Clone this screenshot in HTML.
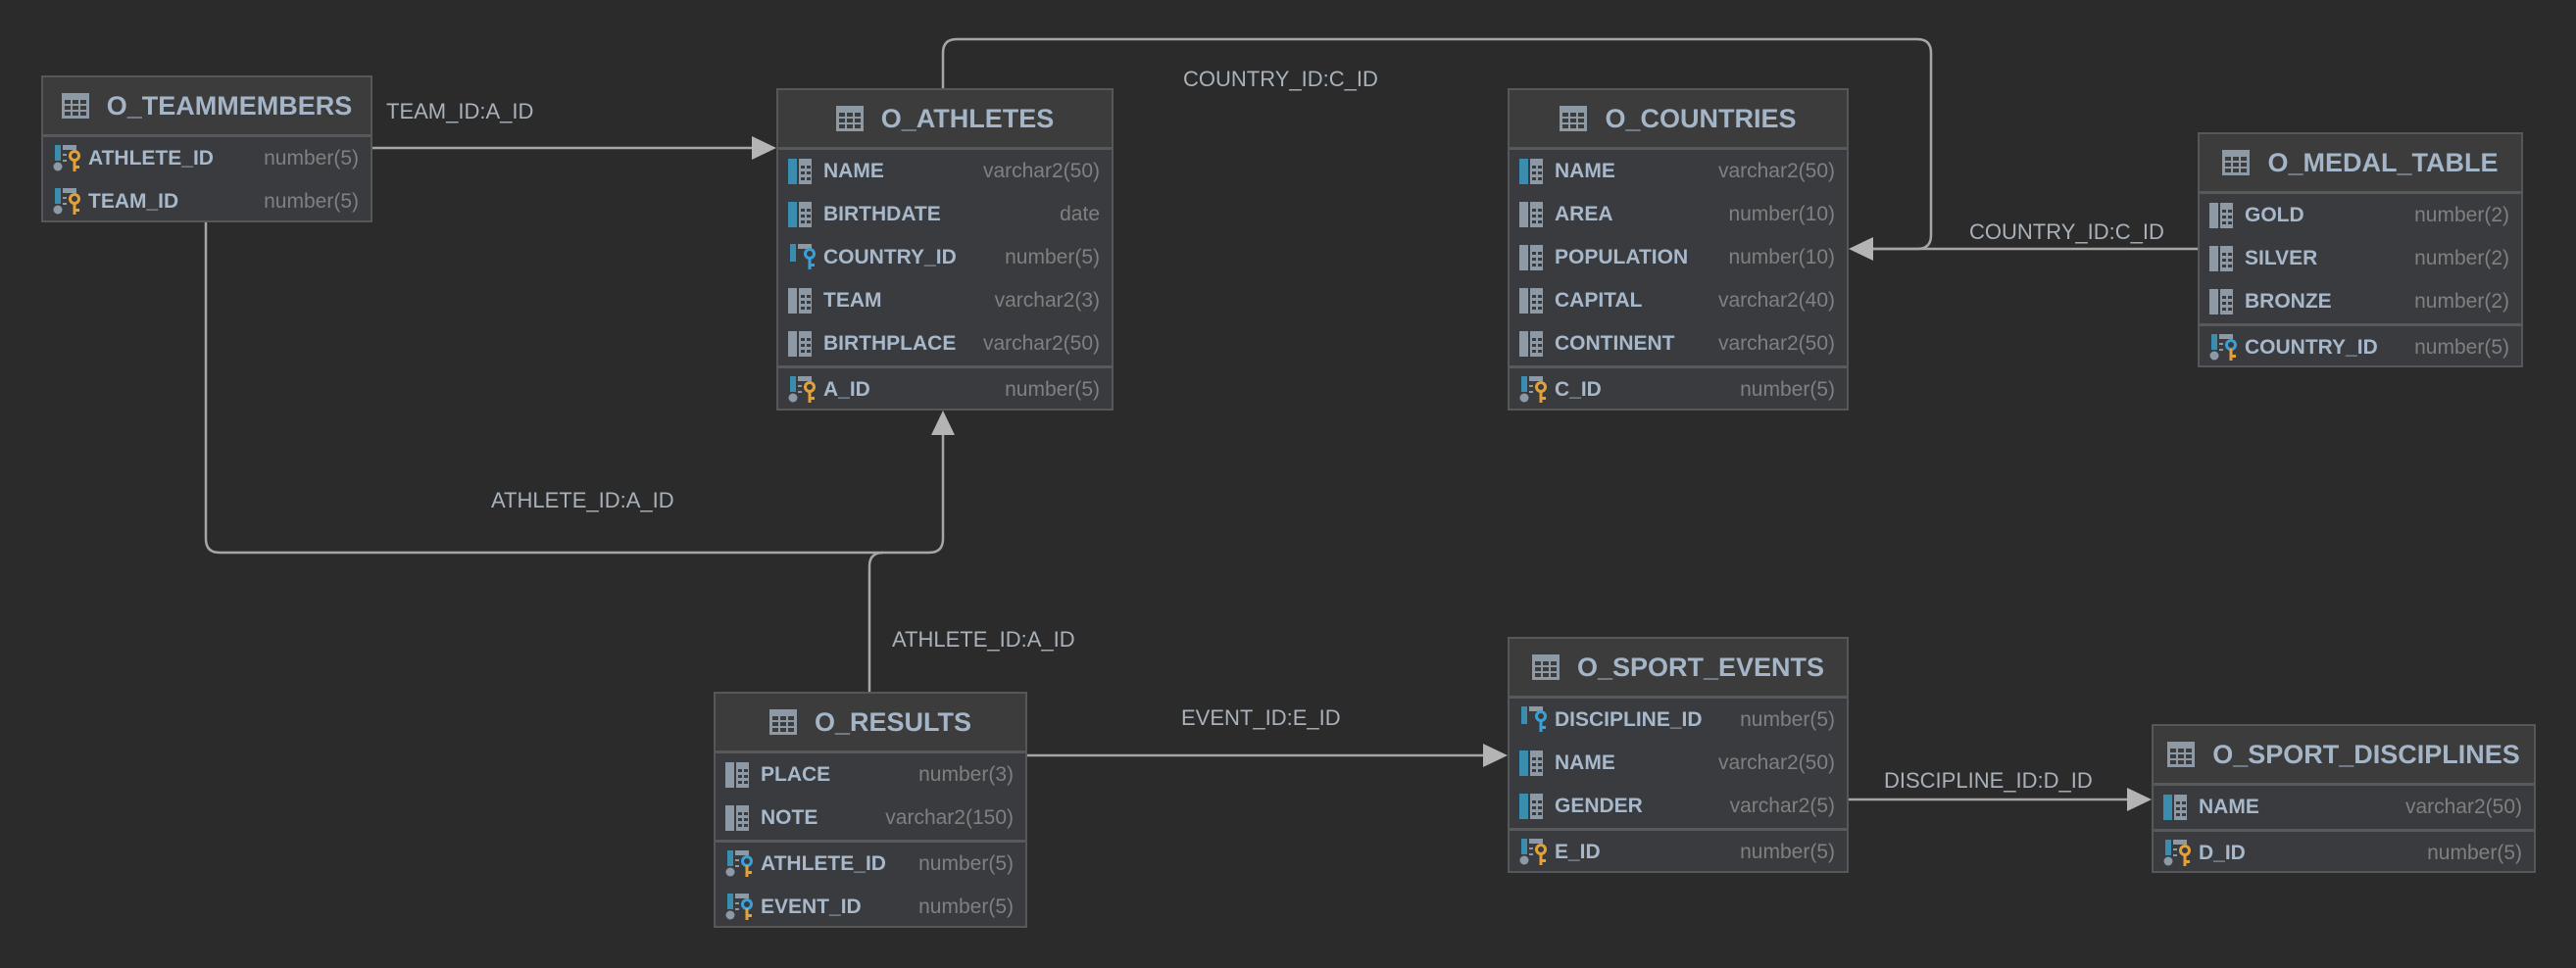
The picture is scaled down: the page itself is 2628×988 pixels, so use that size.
<!DOCTYPE html>
<html><head><meta charset="utf-8">
<style>
html,body{margin:0;padding:0;background:#2b2b2b;width:2628px;height:988px;overflow:hidden;font-family:"Liberation Sans",sans-serif}
.t{position:absolute;background:#393b3e;border:2px solid #555759;box-sizing:border-box}
.h{height:58px;background:#3c3c3c;border-bottom:3px solid #58595b;display:flex;align-items:center;justify-content:center;color:#a5b5c8;font-weight:bold;font-size:27px}
.h svg{margin-right:18px}
.r{height:44px;display:flex;align-items:center;padding:0 12px 0 10px;position:relative}
.r svg{flex:none;margin-right:6px}
.n{color:#a8b8cb;font-weight:bold;font-size:21px;white-space:nowrap}
.y{color:#7e8081;font-size:21px;margin-left:auto;white-space:nowrap}
.s{border-top:3px solid #58595b}
.lb{position:absolute;color:#a9b1ba;font-size:22px;white-space:nowrap}
</style></head><body>
<svg width="0" height="0" style="position:absolute">
<defs>
<symbol id="tb" viewBox="0 0 28 26"><rect x="0" y="0" width="28" height="26" fill="#8d99a4"/><g fill="#3c3c3c"><rect x="3" y="7" width="6" height="4"/><rect x="11" y="7" width="6" height="4"/><rect x="19" y="7" width="6" height="4"/><rect x="3" y="13" width="6" height="4"/><rect x="11" y="13" width="6" height="4"/><rect x="19" y="13" width="6" height="4"/><rect x="3" y="19" width="6" height="4"/><rect x="11" y="19" width="6" height="4"/><rect x="19" y="19" width="6" height="4"/></g></symbol>
<symbol id="col" viewBox="0 0 30 26"><rect x="0" y="0" width="9" height="26" fill="#3b8db0"/><rect x="11" y="0" width="13" height="26" fill="#8d99a4"/><g fill="#393b3e"><rect x="13" y="7" width="4" height="3"/><rect x="19" y="7" width="4" height="3"/><rect x="13" y="13" width="4" height="3"/><rect x="19" y="13" width="4" height="3"/><rect x="13" y="19" width="4" height="3"/><rect x="19" y="19" width="4" height="3"/></g></symbol>
<symbol id="colg" viewBox="0 0 30 26"><rect x="0" y="0" width="9" height="26" fill="#8d99a4"/><rect x="11" y="0" width="13" height="26" fill="#8d99a4"/><g fill="#393b3e"><rect x="13" y="7" width="4" height="3"/><rect x="19" y="7" width="4" height="3"/><rect x="13" y="13" width="4" height="3"/><rect x="19" y="13" width="4" height="3"/><rect x="13" y="19" width="4" height="3"/><rect x="19" y="19" width="4" height="3"/></g></symbol>
<symbol id="fk" viewBox="0 0 30 28"><rect x="2" y="0" width="6" height="18" fill="#3b8db0"/><rect x="10" y="0" width="14" height="5" fill="#8d99a4"/><circle cx="22" cy="10" r="4.5" fill="none" stroke="#3aa0d8" stroke-width="3"/><rect x="20.5" y="14" width="3" height="12" fill="#3aa0d8"/><rect x="23" y="20" width="4" height="3" fill="#3aa0d8"/></symbol>
<symbol id="pk" viewBox="0 0 30 28"><rect x="2" y="0" width="6" height="16" fill="#3b8db0"/><circle cx="5" cy="22" r="4.5" fill="#8d99a4"/><rect x="10" y="0" width="14" height="5" fill="#8d99a4"/><rect x="10" y="9" width="4" height="2" fill="#8d99a4"/><rect x="10" y="15" width="4" height="2" fill="#8d99a4"/><circle cx="22" cy="11" r="4.5" fill="none" stroke="#e3a13a" stroke-width="3"/><rect x="20.5" y="15" width="3" height="12" fill="#e3a13a"/><rect x="23" y="21" width="4" height="3" fill="#e3a13a"/></symbol>
<symbol id="pf" viewBox="0 0 30 28"><rect x="2" y="0" width="6" height="16" fill="#3b8db0"/><circle cx="5" cy="22" r="4.5" fill="#8d99a4"/><rect x="10" y="0" width="14" height="5" fill="#8d99a4"/><rect x="10" y="9" width="4" height="2" fill="#8d99a4"/><rect x="10" y="15" width="4" height="2" fill="#8d99a4"/><circle cx="22" cy="11" r="4.5" fill="none" stroke="#3aa0d8" stroke-width="3"/><rect x="20.5" y="15" width="3" height="12" fill="#e3a13a"/><rect x="23" y="21" width="4" height="3" fill="#e3a13a"/></symbol>
</defs></svg>

<svg width="2628" height="988" style="position:absolute;left:0;top:0">
<g fill="none" stroke="#a6a6a6" stroke-width="2.5">
<path d="M380,151 H770"/>
<path d="M210,227 V550 Q210,564 224,564 H948 Q962,564 962,550 V440"/>
<path d="M887,706 V578 Q887,564 901,564"/>
<path d="M962,90 V54 Q962,40 976,40 H1956 Q1970,40 1970,54 V240 Q1970,254 1956,254 H1908"/>
<path d="M2242,254 H1908"/>
<path d="M1048,771 H1516"/>
<path d="M1886,816 H2173"/>
</g>
<g fill="#b4b4b4">
<polygon points="792,151 767,139 767,163"/>
<polygon points="962,419 950,444 974,444"/>
<polygon points="1886,254 1911,242 1911,266"/>
<polygon points="1538,771 1513,759 1513,783"/>
<polygon points="2195,816 2170,804 2170,828"/>
</g>
</svg>

<div class="lb" style="left:394px;top:101px">TEAM_ID:A_ID</div>
<div class="lb" style="left:501px;top:498px">ATHLETE_ID:A_ID</div>
<div class="lb" style="left:910px;top:640px">ATHLETE_ID:A_ID</div>
<div class="lb" style="left:1207px;top:68px">COUNTRY_ID:C_ID</div>
<div class="lb" style="left:2009px;top:224px">COUNTRY_ID:C_ID</div>
<div class="lb" style="left:1205px;top:720px">EVENT_ID:E_ID</div>
<div class="lb" style="left:1922px;top:784px">DISCIPLINE_ID:D_ID</div>

<div class="t" style="left:42px;top:77px;width:338px;height:150px">
<div class="h"><svg width="28" height="26"><use href="#tb"/></svg>O_TEAMMEMBERS</div>
<div class="r"><svg width="30" height="28"><use href="#pk"/></svg><span class="n">ATHLETE_ID</span><span class="y">number(5)</span></div>
<div class="r"><svg width="30" height="28"><use href="#pk"/></svg><span class="n">TEAM_ID</span><span class="y">number(5)</span></div>
</div>

<div class="t" style="left:792px;top:90px;width:344px;height:329px">
<div class="h"><svg width="28" height="26"><use href="#tb"/></svg>O_ATHLETES</div>
<div class="r"><svg width="30" height="26"><use href="#col"/></svg><span class="n">NAME</span><span class="y">varchar2(50)</span></div>
<div class="r"><svg width="30" height="26"><use href="#col"/></svg><span class="n">BIRTHDATE</span><span class="y">date</span></div>
<div class="r"><svg width="30" height="28"><use href="#fk"/></svg><span class="n">COUNTRY_ID</span><span class="y">number(5)</span></div>
<div class="r"><svg width="30" height="26"><use href="#colg"/></svg><span class="n">TEAM</span><span class="y">varchar2(3)</span></div>
<div class="r"><svg width="30" height="26"><use href="#colg"/></svg><span class="n">BIRTHPLACE</span><span class="y">varchar2(50)</span></div>
<div class="r s"><svg width="30" height="28"><use href="#pk"/></svg><span class="n">A_ID</span><span class="y">number(5)</span></div>
</div>

<div class="t" style="left:1538px;top:90px;width:348px;height:329px">
<div class="h"><svg width="28" height="26"><use href="#tb"/></svg>O_COUNTRIES</div>
<div class="r"><svg width="30" height="26"><use href="#col"/></svg><span class="n">NAME</span><span class="y">varchar2(50)</span></div>
<div class="r"><svg width="30" height="26"><use href="#colg"/></svg><span class="n">AREA</span><span class="y">number(10)</span></div>
<div class="r"><svg width="30" height="26"><use href="#colg"/></svg><span class="n">POPULATION</span><span class="y">number(10)</span></div>
<div class="r"><svg width="30" height="26"><use href="#colg"/></svg><span class="n">CAPITAL</span><span class="y">varchar2(40)</span></div>
<div class="r"><svg width="30" height="26"><use href="#colg"/></svg><span class="n">CONTINENT</span><span class="y">varchar2(50)</span></div>
<div class="r s"><svg width="30" height="28"><use href="#pk"/></svg><span class="n">C_ID</span><span class="y">number(5)</span></div>
</div>

<div class="t" style="left:2242px;top:135px;width:332px;height:240px">
<div class="h"><svg width="28" height="26"><use href="#tb"/></svg>O_MEDAL_TABLE</div>
<div class="r"><svg width="30" height="26"><use href="#colg"/></svg><span class="n">GOLD</span><span class="y">number(2)</span></div>
<div class="r"><svg width="30" height="26"><use href="#colg"/></svg><span class="n">SILVER</span><span class="y">number(2)</span></div>
<div class="r"><svg width="30" height="26"><use href="#colg"/></svg><span class="n">BRONZE</span><span class="y">number(2)</span></div>
<div class="r s"><svg width="30" height="28"><use href="#pf"/></svg><span class="n">COUNTRY_ID</span><span class="y">number(5)</span></div>
</div>

<div class="t" style="left:728px;top:706px;width:320px;height:241px">
<div class="h"><svg width="28" height="26"><use href="#tb"/></svg>O_RESULTS</div>
<div class="r"><svg width="30" height="26"><use href="#colg"/></svg><span class="n">PLACE</span><span class="y">number(3)</span></div>
<div class="r"><svg width="30" height="26"><use href="#colg"/></svg><span class="n">NOTE</span><span class="y">varchar2(150)</span></div>
<div class="r s"><svg width="30" height="28"><use href="#pf"/></svg><span class="n">ATHLETE_ID</span><span class="y">number(5)</span></div>
<div class="r"><svg width="30" height="28"><use href="#pf"/></svg><span class="n">EVENT_ID</span><span class="y">number(5)</span></div>
</div>

<div class="t" style="left:1538px;top:650px;width:348px;height:241px">
<div class="h"><svg width="28" height="26"><use href="#tb"/></svg>O_SPORT_EVENTS</div>
<div class="r"><svg width="30" height="28"><use href="#fk"/></svg><span class="n">DISCIPLINE_ID</span><span class="y">number(5)</span></div>
<div class="r"><svg width="30" height="26"><use href="#col"/></svg><span class="n">NAME</span><span class="y">varchar2(50)</span></div>
<div class="r"><svg width="30" height="26"><use href="#col"/></svg><span class="n">GENDER</span><span class="y">varchar2(5)</span></div>
<div class="r s"><svg width="30" height="28"><use href="#pk"/></svg><span class="n">E_ID</span><span class="y">number(5)</span></div>
</div>

<div class="t" style="left:2195px;top:739px;width:392px;height:152px">
<div class="h"><svg width="28" height="26"><use href="#tb"/></svg>O_SPORT_DISCIPLINES</div>
<div class="r"><svg width="30" height="26"><use href="#col"/></svg><span class="n">NAME</span><span class="y">varchar2(50)</span></div>
<div class="r s"><svg width="30" height="28"><use href="#pk"/></svg><span class="n">D_ID</span><span class="y">number(5)</span></div>
</div>
</body></html>
